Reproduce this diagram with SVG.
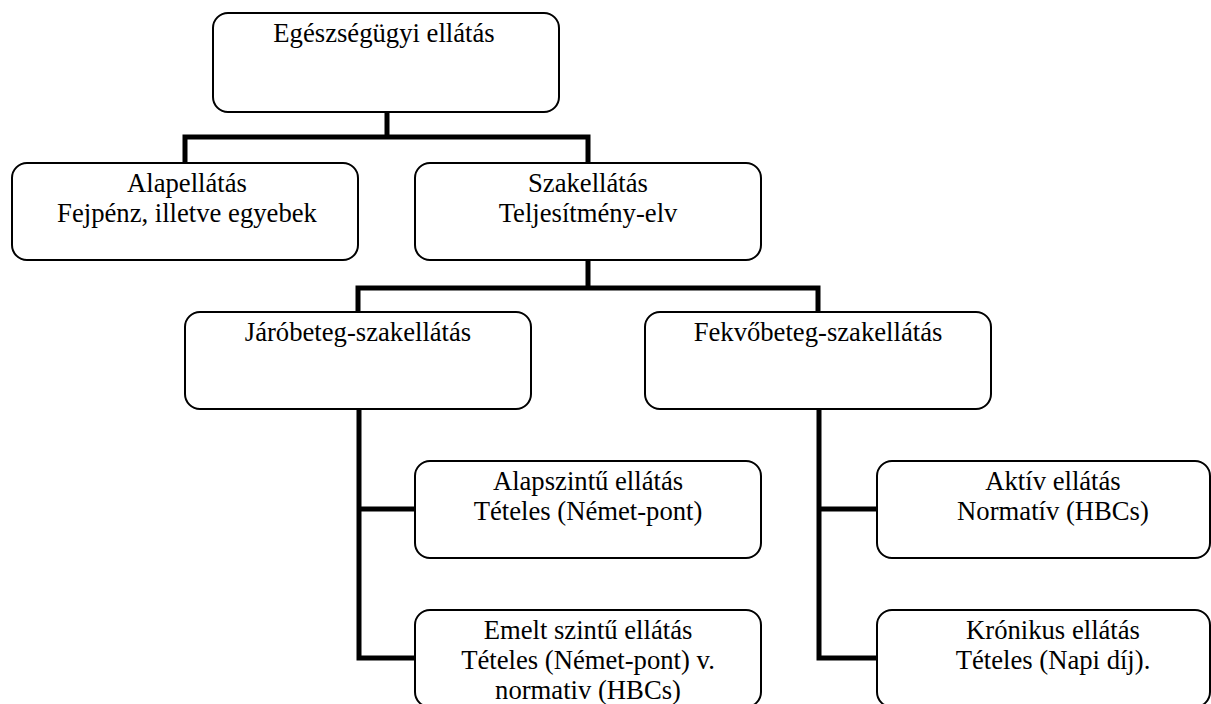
<svg xmlns="http://www.w3.org/2000/svg" width="1211" height="704" viewBox="0 0 1211 704">
  <style>
    .box { fill: #ffffff; stroke: #000000; stroke-width: 2; }
    .link { fill: none; stroke: #000000; stroke-width: 5; stroke-linecap: square; stroke-linejoin: miter; }
    .label { font-family: "Liberation Serif", "Times New Roman", serif; font-size: 26.67px; fill: #000000; text-anchor: middle; }
  </style>
  <rect width="1211" height="704" fill="#ffffff"/>

  <!-- connectors -->
  <g id="connectors">
    <path class="link" d="M387 112 V137 M185 163 V137 H588 V163"/>
    <path class="link" d="M588 260 V288 M358 312 V288 H818 V312"/>
    <path class="link" d="M359 409 V658 H415 M359 509 H415"/>
    <path class="link" d="M819 409 V658 H877 M819 509 H877"/>
  </g>

  <g id="node-egeszsegugyi">
    <rect class="box" x="213" y="13" width="346" height="99" rx="15"/>
    <text class="label" x="384" y="42">Egészségügyi ellátás</text>
  </g>

  <g id="node-alapellatas">
    <rect class="box" x="12" y="163" width="346" height="97" rx="15"/>
    <text class="label" x="187" y="192">Alapellátás</text>
    <text class="label" x="187" y="222">Fejpénz, illetve egyebek</text>
  </g>

  <g id="node-szakellatas">
    <rect class="box" x="415" y="163" width="346" height="97" rx="15"/>
    <text class="label" x="588" y="192">Szakellátás</text>
    <text class="label" x="588" y="222">Teljesítmény-elv</text>
  </g>

  <g id="node-jarobeteg">
    <rect class="box" x="185" y="312" width="346" height="97" rx="15"/>
    <text class="label" x="358" y="341">Járóbeteg-szakellátás</text>
  </g>

  <g id="node-fekvobeteg">
    <rect class="box" x="645" y="312" width="346" height="97" rx="15"/>
    <text class="label" x="818" y="341">Fekvőbeteg-szakellátás</text>
  </g>

  <g id="node-alapszintu">
    <rect class="box" x="415" y="461" width="346" height="97" rx="15"/>
    <text class="label" x="588" y="490">Alapszintű ellátás</text>
    <text class="label" x="588" y="520">Tételes (Német-pont)</text>
  </g>

  <g id="node-emelt">
    <rect class="box" x="415" y="610" width="346" height="97" rx="15"/>
    <text class="label" x="588" y="639">Emelt szintű ellátás</text>
    <text class="label" x="588" y="669">Tételes (Német-pont) v.</text>
    <text class="label" x="588" y="699">normativ (HBCs)</text>
  </g>

  <g id="node-aktiv">
    <rect class="box" x="877" y="461" width="333" height="97" rx="15"/>
    <text class="label" x="1053" y="490">Aktív ellátás</text>
    <text class="label" x="1053" y="520">Normatív (HBCs)</text>
  </g>

  <g id="node-kronikus">
    <rect class="box" x="877" y="610" width="333" height="97" rx="15"/>
    <text class="label" x="1053" y="639">Krónikus ellátás</text>
    <text class="label" x="1053" y="669">Tételes (Napi díj).</text>
  </g>
</svg>
